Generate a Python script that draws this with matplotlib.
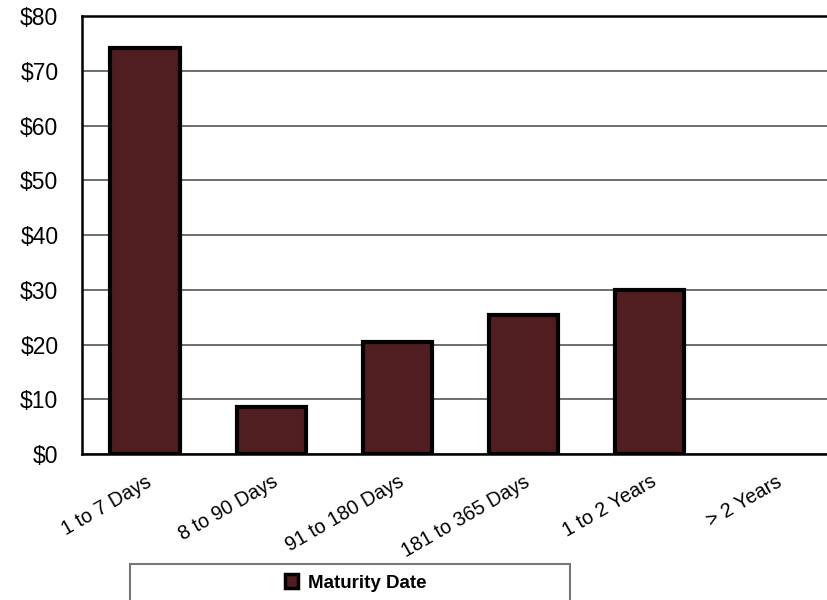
import matplotlib.pyplot as plt
from matplotlib.patches import Rectangle
from matplotlib.ticker import FuncFormatter

categories = ["1 to 7 Days", "8 to 90 Days", "91 to 180 Days", "181 to 365 Days", "1 to 2 Years", "> 2 Years"]
values = [74.2, 8.6, 20.5, 25.4, 30.0, 0.0]
series_name = "Maturity Date"

bar_color = "#501E20"

plt.rcParams['font.family'] = ['Liberation Sans', 'DejaVu Sans']

fig = plt.figure(figsize=(8.27, 6), dpi=100)
ax = fig.add_axes([0.0992, 0.2433, 0.9153, 0.73])

x = range(len(categories))
# a zero-height bar has no visible outline in the original
edge_widths = [3.0 if v > 0 else 0 for v in values]
bars = ax.bar(x, values, width=0.55, color=bar_color, edgecolor="black", linewidth=edge_widths,
              label=series_name, zorder=3)

ax.set_xlim(-0.5, len(categories) - 0.5)
ax.set_ylim(0, 80)
ax.set_yticks(range(0, 81, 10))
ax.yaxis.set_major_formatter(FuncFormatter(lambda v, p: f"${int(v)}"))
ax.grid(axis="y", color="#555555", linewidth=1.2, zorder=0)
ax.set_axisbelow(True)

ax.set_xticks(list(x))
ax.set_xticklabels(categories, rotation=30, ha="right", rotation_mode="anchor", fontsize=14.2)
ax.tick_params(axis="y", labelsize=16.5, length=0, pad=17)
ax.tick_params(axis="x", length=0, pad=13)

for s in ["top", "left", "bottom"]:
    ax.spines[s].set_linewidth(1.8)
    ax.spines[s].set_color("black")
ax.spines["right"].set_visible(False)

# legend box
fig.patches.append(Rectangle((130 / 827, -0.02), 440 / 827, 0.08, transform=fig.transFigure,
                             facecolor="white", edgecolor="#777777", linewidth=1.5, zorder=5))
leg = fig.legend(handles=[bars], labels=[series_name], loc="center",
                 bbox_to_anchor=(0.43, 1 - 583 / 600), frameon=False,
                 handlelength=0.7, handleheight=0.7, handletextpad=0.5,
                 prop={"weight": "bold", "size": 13.5})
leg.set_zorder(6)
for h in leg.legend_handles:
    h.set_linewidth(2.5)

fig.savefig("out.png", dpi=100)
